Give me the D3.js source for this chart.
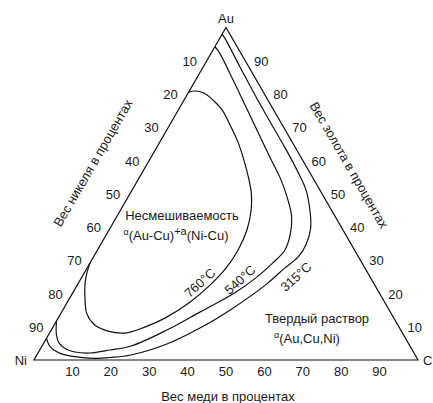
<!DOCTYPE html>
<html>
<head>
<meta charset="utf-8">
<script src="https://cdn.jsdelivr.net/npm/d3@7"></script>
<style>
  body { margin: 0; background: #fff; }
  svg text { font-family: "Liberation Sans", Arial, Helvetica, sans-serif; fill: #1a1a1a; }
</style>
</head>
<body>
<svg id="chart" width="433" height="403"></svg>
<script>
// tick labels (same on all three sides)
const tickValues = [10, 20, 30, 40, 50, 60, 70, 80, 90]

// isotherms as compositions [Cu %, Au %], Ni = 100 - Cu - Au
const curve760 = [
  [0, 80.5], [1.5, 80.9], [4.1, 80.3], [7.5, 78.2], [11.4, 75.2], [15.7, 70.7],
  [20.3, 65.6], [24.1, 60.8], [27.9, 55.6], [31.5, 50.2], [34.0, 45.1], [35.9, 39.1],
  [36.6, 33.1], [36.2, 27.7], [34.6, 22.6], [31.9, 17.4], [27.8, 12.6], [23.9, 9.9],
  [19.6, 8.1], [14.9, 8.7], [10.6, 10.5], [6.9, 13.8], [4.3, 18.0], [1.7, 23.2],
  [0.6, 26.5], [0, 29.2]
]
const curve540 = [
  [0, 94.2], [1.9, 92.6], [9.2, 84.8], [16.6, 76.7], [24.0, 68.6], [31.1, 60.8],
  [37.3, 54.1], [42.1, 48.1], [45.6, 43.0], [47.9, 37.6], [48.8, 33.1], [47.6, 29.2],
  [45.6, 25.0], [42.2, 20.2], [36.0, 14.4], [30.1, 9.0], [23.2, 4.2], [18.3, 3.0],
  [13.5, 2.1], [9.5, 2.4], [6.7, 3.3], [4.0, 5.1], [2.1, 7.5], [0, 11.7]
]
const curve315 = [
  [0, 98.0], [1.9, 96.2], [9.6, 88.1], [17.7, 79.7], [25.7, 71.6], [33.5, 63.8],
  [40.5, 56.5], [45.3, 51.1], [49.3, 45.1], [52.2, 39.7], [53.5, 34.6], [53.3, 31.0],
  [51.5, 27.7], [49.2, 22.9], [44.0, 15.6], [38.4, 9.6], [32.2, 4.8], [24.5, 1.5],
  [19.4, 0.75], [16.2, 0.5], [11.6, 0.8], [5.8, 2.0], [2.2, 4.0], [0, 6.5]
]
const isothermLabels = ["760°C", "540°C", "315°C"]

const svg = d3.select("#chart")

const xScale = d3.scaleLinear().domain([0, 100]).range([34, 418])
const yScale = d3.scaleLinear().domain([0, 100]).range([360, 27.5])

// ternary -> screen
const project = (cu, au) => [xScale(cu + au / 2), yScale(au)]

// triangle frame
const ni = project(0, 0), cu = project(100, 0), au = project(0, 100)
svg.append("path")
  .attr("d", `M${ni}L${cu}L${au}Z`)
  .attr("fill", "none")
  .attr("stroke", "#111")
  .attr("stroke-width", 1.2)

// isotherms
const line = d3.line()
  .x(d => project(d[0], d[1])[0])
  .y(d => project(d[0], d[1])[1])
  .curve(d3.curveCatmullRom.alpha(0.5))

const curves = [curve760, curve540, curve315]
svg.selectAll(".iso")
  .data(curves)
  .enter()
  .append("path")
  .attr("class", "iso")
  .attr("d", line)
  .attr("fill", "none")
  .attr("stroke", "#111")
  .attr("stroke-width", 1.2)

// isotherm labels, placed just outside each curve
const labelSpots = [[31.6, 23.2], [41.6, 24.1], [55.7, 25.0]]
svg.selectAll(".isolabel")
  .data(isothermLabels)
  .enter()
  .append("text")
  .attr("class", "isolabel")
  .attr("transform", (d, i) => {
    const p = project(labelSpots[i][0], labelSpots[i][1])
    return `translate(${p[0]},${p[1]}) rotate(-42)`
  })
  .attr("text-anchor", "middle")
  .attr("dominant-baseline", "central")
  .style("font-size", "13px")
  .text(d => d)

// tick labels
const tickFont = "13px"
// bottom: Cu
svg.selectAll(".tb")
  .data(tickValues)
  .enter()
  .append("text")
  .attr("x", d => project(d, 0)[0])
  .attr("y", d => project(d, 0)[1] + 15.5)
  .attr("text-anchor", "middle")
  .style("font-size", tickFont)
  .text(d => d)

// left: Ni (point on left edge with Ni = d)
svg.selectAll(".tl")
  .data(tickValues)
  .enter()
  .append("text")
  .attr("x", d => project(0, 100 - d)[0] - 17)
  .attr("y", d => project(0, 100 - d)[1] + 5)
  .attr("text-anchor", "middle")
  .style("font-size", tickFont)
  .text(d => d)

// right: Au (point on right edge with Au = d)
svg.selectAll(".tr")
  .data(tickValues)
  .enter()
  .append("text")
  .attr("x", d => project(100 - d, d)[0] + 16)
  .attr("y", d => project(100 - d, d)[1] + 5)
  .attr("text-anchor", "middle")
  .style("font-size", tickFont)
  .text(d => d)

// vertex labels
svg.append("text").attr("x", au[0]).attr("y", au[1] - 5)
  .attr("text-anchor", "middle").style("font-size", "13px").text("Au")
svg.append("text").attr("x", ni[0] - 7).attr("y", ni[1] + 5)
  .attr("text-anchor", "end").style("font-size", "13px").text("Ni")
svg.append("text").attr("x", cu[0] + 5).attr("y", cu[1] + 5)
  .attr("text-anchor", "start").style("font-size", "13px").text("C")

// axis titles
svg.append("text")
  .attr("transform", "translate(93,163) rotate(-60)")
  .attr("text-anchor", "middle").attr("dominant-baseline", "central")
  .style("font-size", "13px")
  .text("Вес никеля в процентах")
svg.append("text")
  .attr("transform", "translate(349,165) rotate(60)")
  .attr("text-anchor", "middle").attr("dominant-baseline", "central")
  .style("font-size", "13px")
  .text("Вес золота в процентах")
svg.append("text")
  .attr("x", 228).attr("y", 401)
  .attr("text-anchor", "middle")
  .style("font-size", "13px")
  .text("Вес меди в процентах")

// region labels
svg.append("text")
  .attr("x", 182).attr("y", 220)
  .attr("text-anchor", "middle")
  .style("font-size", "13px")
  .text("Несмешиваемость")

const mix = svg.append("text")
  .attr("x", 176).attr("y", 240)
  .attr("text-anchor", "middle")
  .style("font-size", "13px")
mix.append("tspan").attr("dy", -5).style("font-size", "9px").text("α")
mix.append("tspan").attr("dy", 5).text("(Au-Cu)")
mix.append("tspan").attr("dy", -5).style("font-size", "11px").text("+a")
mix.append("tspan").attr("dy", 5).text("(Ni-Cu)")

svg.append("text")
  .attr("x", 317).attr("y", 323)
  .attr("text-anchor", "middle")
  .style("font-size", "13px")
  .text("Твердый раствор")

const sol = svg.append("text")
  .attr("x", 307).attr("y", 343)
  .attr("text-anchor", "middle")
  .style("font-size", "13px")
sol.append("tspan").attr("dy", -5).style("font-size", "9px").text("α")
sol.append("tspan").attr("dy", 5).text("(Au,Cu,Ni)")
</script>
</body>
</html>
